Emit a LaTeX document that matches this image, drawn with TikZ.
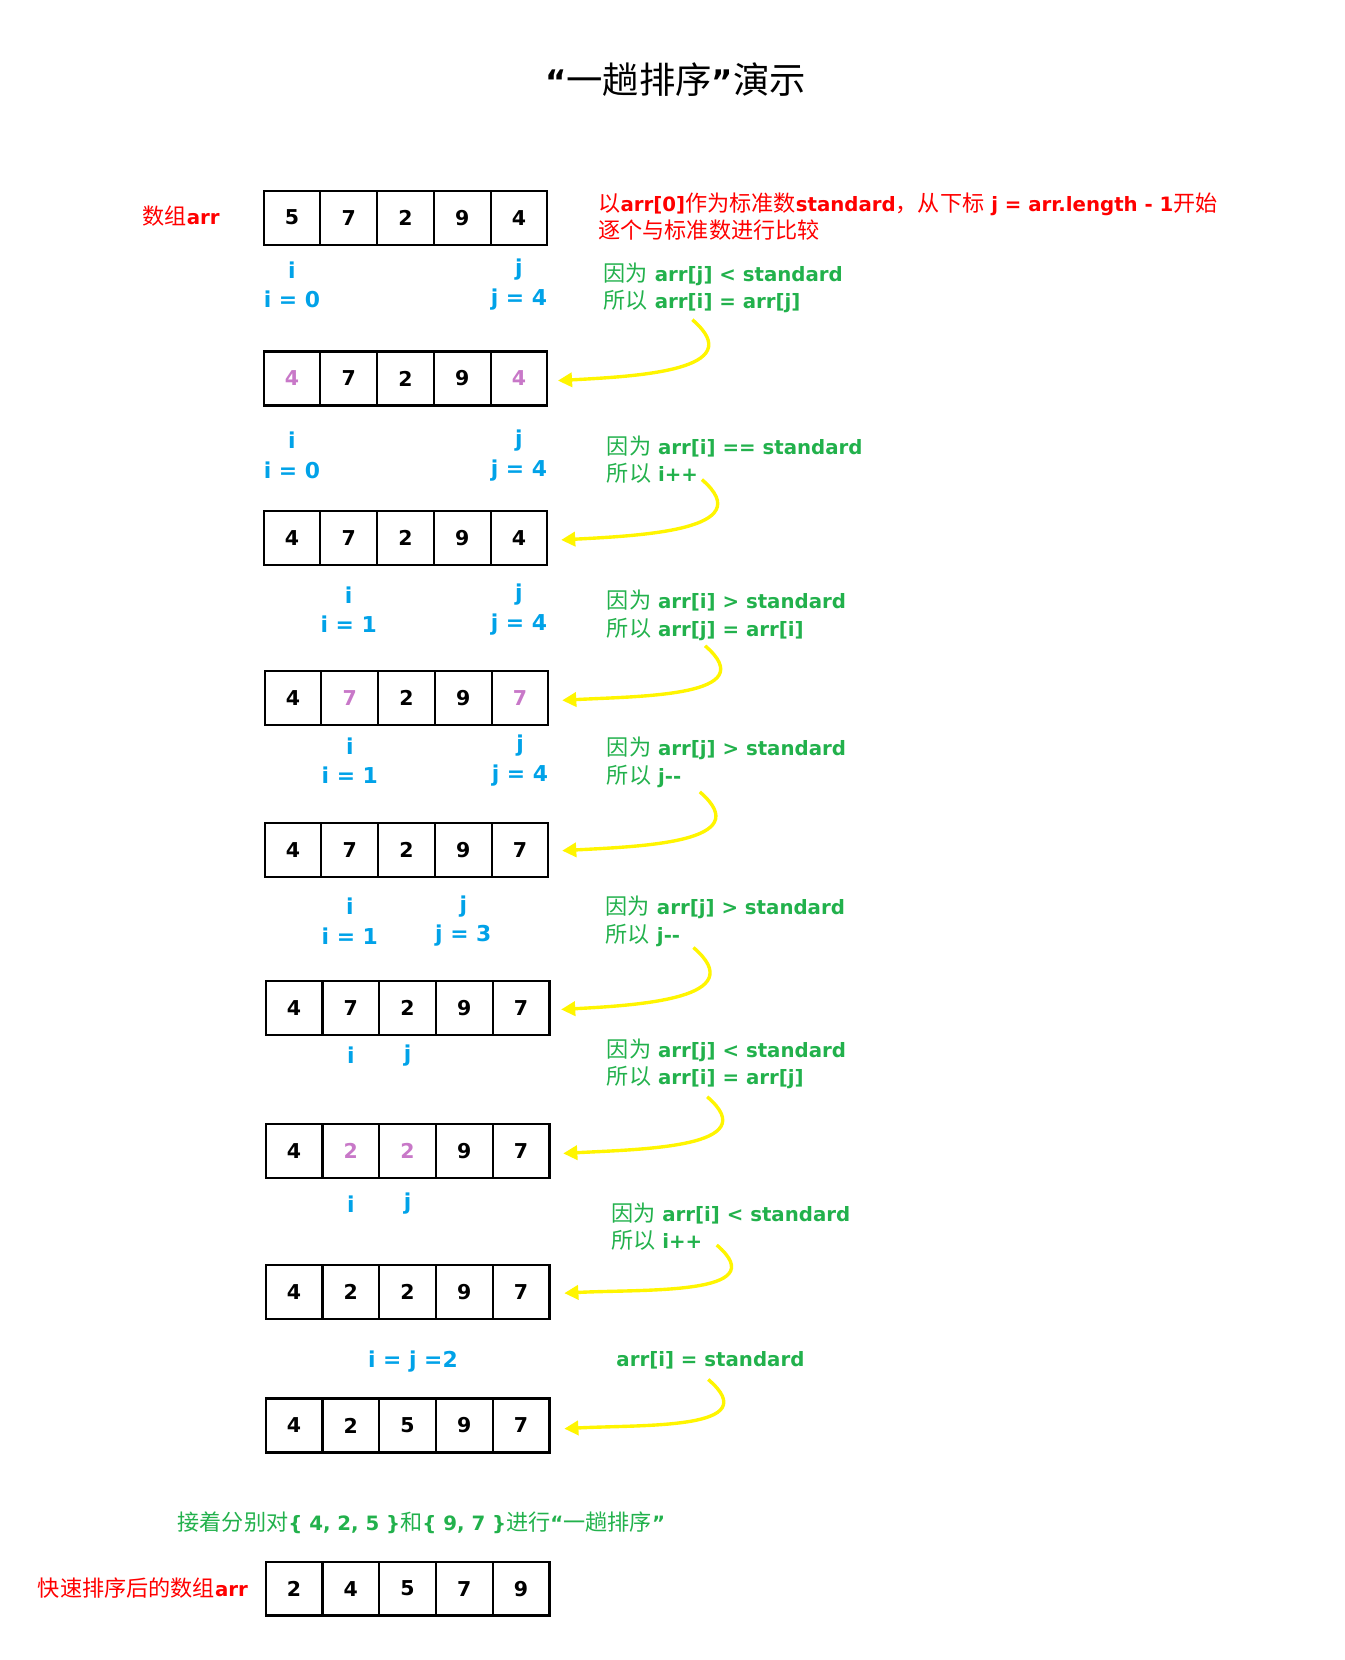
\documentclass[tikz,border=0pt]{standalone}
\usepackage{fontspec}
\setmainfont{DejaVu Sans}
\newfontfamily\cjk{Noto Sans CJK SC}[Scale=1.12]
\usepackage{tikz}
\usetikzlibrary{positioning, arrows.meta, calc}
\definecolor{keyred}{RGB}{255, 0, 0}
\definecolor{stepgreen}{RGB}{34, 177, 76}
\definecolor{ptrblue}{RGB}{0, 162, 232}
\definecolor{swapmark}{RGB}{200, 120, 200}
\definecolor{flowyellow}{RGB}{255, 245, 0}

\newcommand{\zh}[1]{{\cjk\mdseries #1}}
\newcommand{\marked}[1]{\textcolor{swapmark}{#1}}
% one array of five cells: name, left x, middle y, values
\newcommand{\cellrow}[4]{%
  \foreach \v [count=\k] in {#4}
    \node[cell] (#1-\k) at ({#2+(\k-0.5)*53.6}, #3) {\v};
}

\begin{document}
\begin{tikzpicture}[
  x=0.75pt, y=-0.75pt,
  cell/.style={draw, line width=1.5pt, minimum width=40.2pt, minimum height=38.25pt,
    inner sep=0pt, outer sep=0pt, font=\fontsize{14.5}{17}\selectfont\bfseries},
  ptr/.style={text=ptrblue, align=center, inner sep=0pt,
    font=\fontsize{15.5}{21}\selectfont\bfseries},
  why/.style={text=stepgreen, align=left, anchor=west, inner sep=0pt,
    font=\fontsize{14}{19.5}\selectfont\bfseries},
  key/.style={text=keyred, inner sep=0pt, font=\fontsize{14}{18.75}\selectfont\bfseries},
  flow/.style={draw=flowyellow, line width=2.4pt, -{Triangle[length=10pt, width=10pt]}}
]
  \useasboundingbox (0,0) rectangle (1270,1568);

  \node[inner sep=0pt, font=\fontsize{23}{28}\selectfont\bfseries] (title) at (638,75)
    {“\zh{一趟排序}”\zh{演示}};

  % arrays
  \cellrow{r1}{249}{205.5}{5,7,2,9,4}
  \cellrow{r2}{249}{357.5}{\marked{4},7,2,9,\marked{4}}
  \cellrow{r3}{249}{508}{4,7,2,9,4}
  \cellrow{r4}{250}{659.5}{4,\marked{7},2,9,\marked{7}}
  \cellrow{r5}{250}{802.5}{4,7,2,9,7}
  \cellrow{r6}{251}{952.5}{4,7,2,9,7}
  \cellrow{r7}{251}{1087.5}{4,\marked{2},\marked{2},9,7}
  \cellrow{r8}{251}{1220.5}{4,2,2,9,7}
  \cellrow{r9}{251}{1346.5}{4,2,5,9,7}
  \cellrow{r10}{251}{1500.5}{2,4,5,7,9}

  \node[key] (startlbl) at (171,204) {\zh{数组}arr};
  \node[key, align=left, anchor=west] (intro) at (565,204.5)
    {\zh{以}arr[0]\zh{作为标准数}standard\zh{，从下标} j = arr.length - 1\zh{开始}\\
     \zh{逐个与标准数进行比较}};

  % i and j
  \node[ptr] (i1) at (r1-1 |- 0,269) {i\\i = 0};
  \node[ptr] (j1) at (r1-5 |- 0,269) {j\\j = 4};
  \node[ptr] (i2) at (r2-1 |- 0,430) {i\\i = 0};
  \node[ptr] (j2) at (r2-5 |- 0,430) {j\\j = 4};
  \node[ptr] (i3) at (r3-2 |- 0,576) {i\\i = 1};
  \node[ptr] (j3) at (r3-5 |- 0,576) {j\\j = 4};
  \node[ptr] (i4) at (r4-2 |- 0,718.5) {i\\i = 1};
  \node[ptr] (j4) at (r4-5 |- 0,718.5) {j\\j = 4};
  \node[ptr] (i5) at (r5-2 |- 0,870) {i\\i = 1};
  \node[ptr] (j5) at (r5-4 |- 0,870) {j\\j = 3};
  \node[ptr] (i6) at (r6-2 |- 0,997) {i};
  \node[ptr] (j6) at (r6-3 |- 0,997) {j};
  \node[ptr] (i7) at (r7-2 |- 0,1137) {i};
  \node[ptr] (j7) at (r7-3 |- 0,1137) {j};
  \node[ptr] (ij8) at (390,1286) {i = j =2};

  % reasons
  \node[why] (n1) at (570,272) {\zh{因为} arr[j] < standard\\\zh{所以} arr[i] = arr[j]};
  \node[why] (n2) at (573,434) {\zh{因为} arr[i] == standard\\\zh{所以} i++};
  \node[why] (n3) at (573,581) {\zh{因为} arr[i] > standard\\\zh{所以} arr[j] = arr[i]};
  \node[why] (n4) at (573,720) {\zh{因为} arr[j] > standard\\\zh{所以} j-{}-};
  \node[why] (n5) at (572,870.5) {\zh{因为} arr[j] > standard\\\zh{所以} j-{}-};
  \node[why] (n6) at (573,1005) {\zh{因为} arr[j] < standard\\\zh{所以} arr[i] = arr[j]};
  \node[why] (n7) at (577,1158.5) {\zh{因为} arr[i] < standard\\\zh{所以} i++};
  \node[why] (n8) at (582,1285) {arr[i] = standard};

  \coordinate (s1) at (654,302);
  \coordinate (s2) at (663,453);
  \coordinate (s3) at (666,610);
  \coordinate (s4) at (661,748);
  \coordinate (s5) at (655,895);
  \coordinate (s6) at (668,1036);
  \coordinate (s7) at (677,1176);
  \coordinate (s8) at (669,1303);

  \draw[flow] (s1) .. controls +(56,48) and +(74,-4) .. ($(r2-5.east)+(10,2)$);
  \draw[flow] (s2) .. controls +(56,48) and +(74,-4) .. ($(r3-5.east)+(13,2)$);
  \draw[flow] (s3) .. controls +(56,48) and +(74,-4) .. ($(r4-5.east)+(13,2)$);
  \draw[flow] (s4) .. controls +(56,48) and +(74,-4) .. ($(r5-5.east)+(13,1)$);
  \draw[flow] (s5) .. controls +(56,48) and +(74,-4) .. ($(r6-5.east)+(11,1)$);
  \draw[flow] (s6) .. controls +(56,48) and +(74,-4) .. ($(r7-5.east)+(13,2)$);
  \draw[flow] (s7) .. controls +(56,48) and +(74,-4) .. ($(r8-5.east)+(14,1)$);
  \draw[flow] (s8) .. controls +(56,48) and +(74,-4) .. ($(r9-5.east)+(14,3)$);

  \node[why, anchor=center] (next) at (398,1438)
    {\zh{接着分别对}\{ 4, 2, 5 \}\zh{和}\{ 9, 7 \}\zh{进行}“\zh{一趟排序}”};
  \node[key] (donelbl) at (135,1500) {\zh{快速排序后的数组}arr};
\end{tikzpicture}
\end{document}
